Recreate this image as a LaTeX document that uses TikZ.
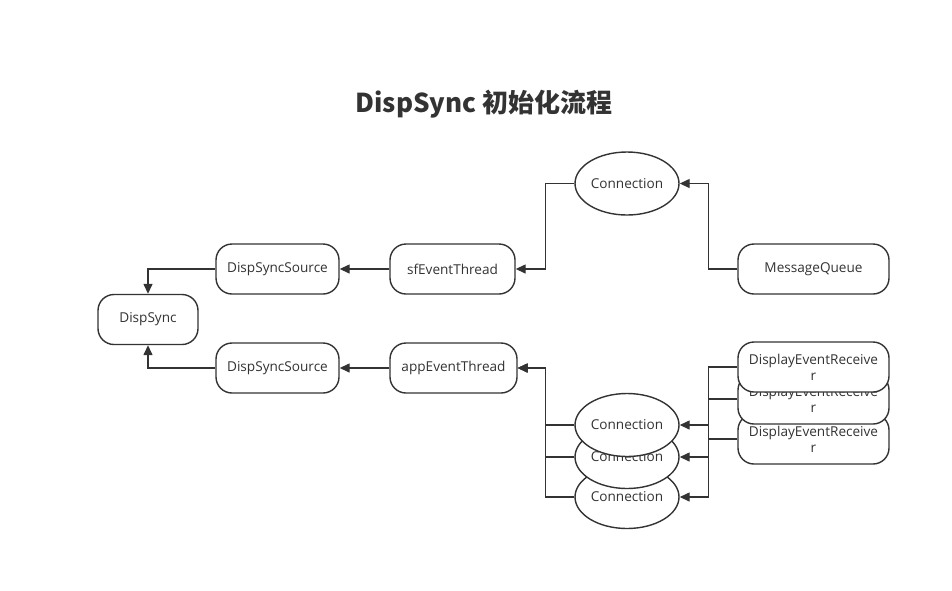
\documentclass[tikz,border=0pt]{standalone}
\usepackage{fontspec}
\setmainfont{Open Sans}
\newfontfamily\cjkfont{Noto Sans CJK SC}
\usetikzlibrary{arrows.meta,shapes.geometric}
\definecolor{linegray}{HTML}{333333}

\begin{document}
\begin{tikzpicture}[
    x=1pt, y=-1pt,
    box/.style={
        draw=linegray,
        fill=white,
        rectangle,
        rounded corners=16pt,
        align=center,
        inner sep=0pt,
        line width=1.4pt,
        minimum height=50pt,
        text=linegray,
        font=\fontsize{13.6}{16}\selectfont
    },
    oval/.style={box, ellipse, minimum width=104pt, minimum height=63pt},
    arrow/.style={-{Triangle[length=10pt,width=9pt]}, draw=linegray, line width=1.4pt}
]
\useasboundingbox (0,0) rectangle (952,590);

% ===== Title =====
\node[text=linegray, font=\cjkfont\bfseries\fontsize{26}{30}\selectfont] (title) at (484,104) {DispSync 初始化流程};

% ===== Left column =====
\node[box, minimum width=100pt] (sync) at (148,319.5) {DispSync};
\node[box, minimum width=123pt] (srcsf)  at (277.5,269) {DispSyncSource};
\node[box, minimum width=123pt] (srcapp) at (277.5,368) {DispSyncSource};

% ===== Threads =====
\node[box, minimum width=125pt] (sf)  at (452.5,269) {sfEventThread};
\node[box, minimum width=127pt] (app) at (453.5,368) {appEventThread};

% ===== Top branch =====
\node[oval] (conn) at (627,183.5) {Connection};
\node[box, minimum width=151pt] (mq) at (813.5,269) {MessageQueue};

% ===== Bottom branch =====
\node[oval] (conn3) at (627,497) {Connection};
\node[oval] (conn2) at (627,457) {Connection};
\node[oval] (conn1) at (627,425) {Connection};
\node[box, minimum width=151pt] (rcv3) at (813.5,439) {DisplayEventReceive\\r};
\node[box, minimum width=151pt] (rcv2) at (813.5,399) {DisplayEventReceive\\r};
\node[box, minimum width=151pt] (rcv1) at (813.5,367) {DisplayEventReceive\\r};

% ===== Arrows =====
\draw[arrow] (srcsf.west) -| (sync.north);
\draw[arrow] (srcapp.west) -| (sync.south);
\draw[arrow] (sf.west) -- (srcsf.east);
\draw[arrow] (app.west) -- (srcapp.east);
\draw[arrow] (conn.west) -- ++(-29,0) |- (sf.east);
\draw[arrow] (mq.west) -- ++(-29,0) |- (conn.east);
\foreach \i in {1,2,3} {
    \draw[arrow] (conn\i.west) -- ++(-29,0) |- (app.east);
    \draw[arrow] (rcv\i.west) -- ++(-29,0) |- (conn\i.east);
}

\end{tikzpicture}
\end{document}
